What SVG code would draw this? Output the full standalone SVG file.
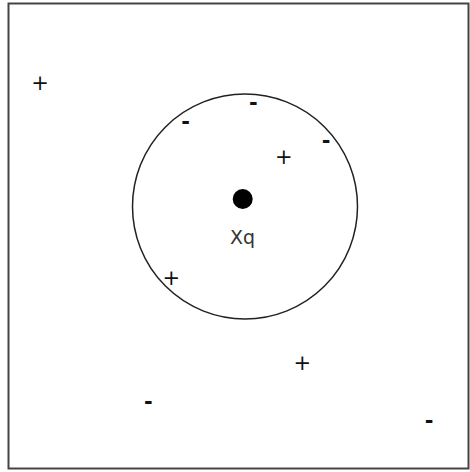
<svg xmlns="http://www.w3.org/2000/svg" width="470" height="472" viewBox="0 0 470 472">
<style>
.mark{font-family:"DejaVu Sans",Verdana,sans-serif;font-size:21px;fill:#111;text-anchor:middle}
.minus{font-weight:bold}
.lbl{font-family:"DejaVu Sans",Verdana,sans-serif;font-size:19px;fill:#333;text-anchor:middle}
</style>
<rect x="8.5" y="3.5" width="460" height="465" fill="#fff" stroke="#444" stroke-width="2"/>
<g id="neighborhood">
<circle cx="245" cy="206.5" r="112.5" fill="none" stroke="#222" stroke-width="1.5"/>
</g>
<g id="query">
<circle cx="242.7" cy="199" r="10" fill="#000"/>
<text class="lbl" x="242.5" y="244">Xq</text>
</g>
<g id="p1"><text class="mark" x="40" y="89.5">+</text></g>
<g id="p2"><text class="mark" x="283.7" y="164">+</text></g>
<g id="p3"><text class="mark" x="171.3" y="285.3">+</text></g>
<g id="p4"><text class="mark" x="302.3" y="369.6">+</text></g>
<g id="m1"><text class="mark minus" x="253.3" y="110.3">-</text></g>
<g id="m2"><text class="mark minus" x="185.7" y="129">-</text></g>
<g id="m3"><text class="mark minus" x="326" y="147.7">-</text></g>
<g id="m4"><text class="mark minus" x="148.3" y="409.3">-</text></g>
<g id="m5"><text class="mark minus" x="429" y="428">-</text></g>
</svg>
